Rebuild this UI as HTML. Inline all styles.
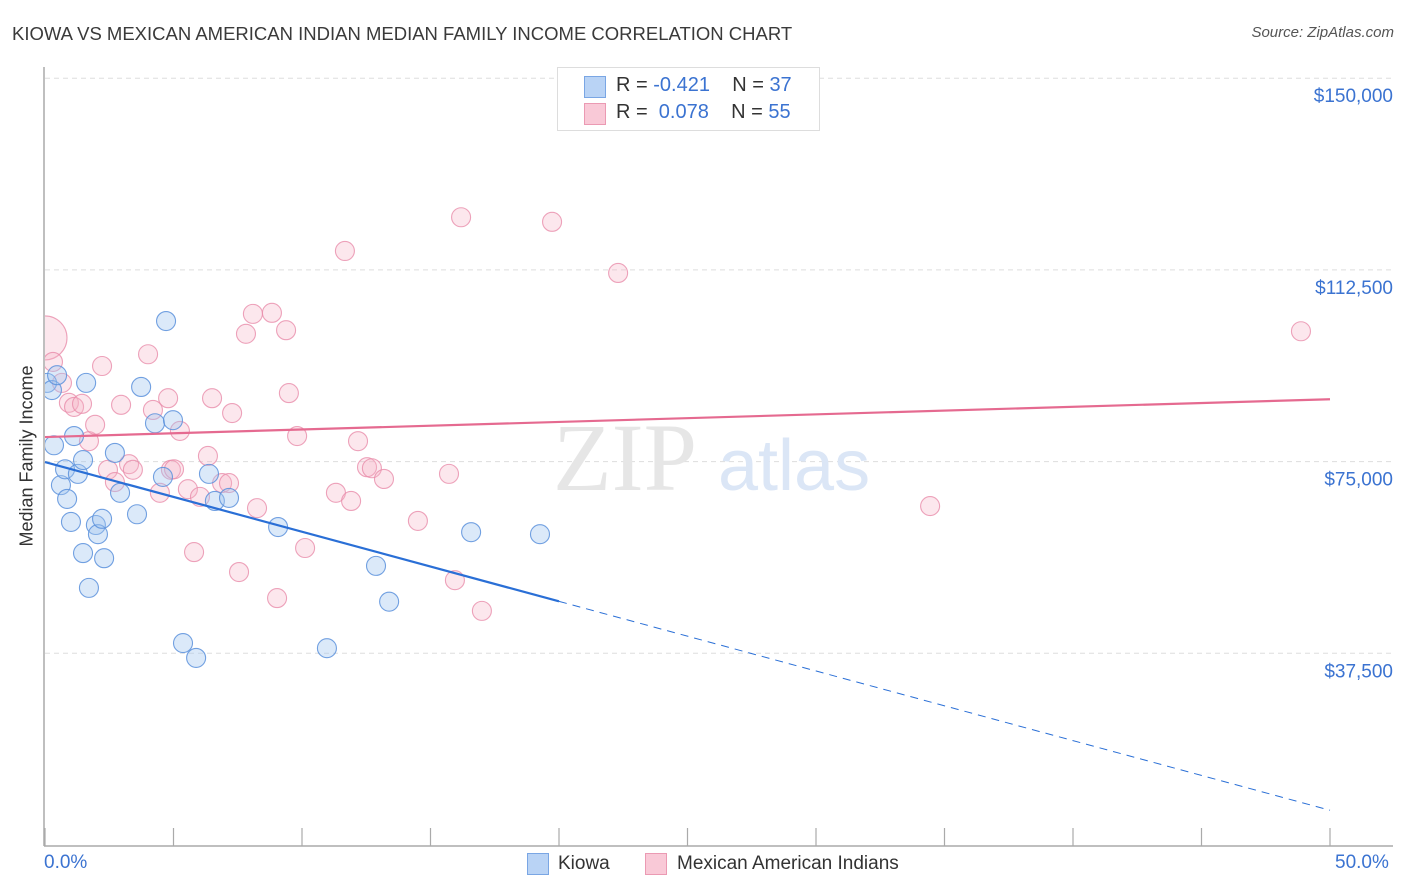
<!DOCTYPE html>
<html><head><meta charset="utf-8">
<style>
body{margin:0;background:#fff;font-family:"Liberation Sans",sans-serif;}
#wrap{position:relative;width:1406px;height:892px;overflow:hidden;}
.t{position:absolute;white-space:nowrap;}
</style></head>
<body>
<div id="wrap">
<div class="t" style="left:12px;top:23px;font-size:18.5px;color:#3a3a3a;">KIOWA VS MEXICAN AMERICAN INDIAN MEDIAN FAMILY INCOME CORRELATION CHART</div>
<div class="t" style="right:12px;top:24px;font-size:15px;color:#555;font-style:italic;">Source: ZipAtlas.com</div>
<svg id="svg" width="1406" height="892" style="position:absolute;left:0;top:0"></svg>
</div>
<script>
const xTicksPct=[0,5,10,15,20,25,30,35,40,45,50];
const yTickVals=[37.5,75,112.5,150];
const yTickLabels=["$37,500","$75,000","$112,500","$150,000"];
const kiowaX=[0.08,0.27,0.47,0.35,0.62,0.78,0.86,1.01,1.13,1.28,1.48,1.48,1.60,1.71,1.98,2.06,2.22,2.30,2.72,2.92,3.58,3.74,4.28,4.59,4.71,4.98,5.37,5.88,6.38,6.61,7.16,9.07,10.97,12.88,13.39,16.58,19.26];
const kiowaY=[90.4,89.0,91.9,78.2,70.4,73.5,67.7,63.2,80.0,72.6,75.3,57.1,90.4,50.3,62.6,60.8,63.8,56.1,76.7,68.9,64.7,89.6,82.5,72.0,102.5,83.1,39.5,36.6,72.6,67.3,67.9,62.2,38.5,54.6,47.6,61.2,60.8];
const mexX=[0,0.31,0.66,0.93,1.13,1.44,1.71,1.95,2.22,2.45,2.72,2.96,3.27,3.42,4.01,4.20,4.47,4.79,4.90,5.02,5.25,5.56,5.80,6.03,6.34,6.50,6.89,7.16,7.28,7.55,7.82,8.09,8.25,8.83,9.03,9.38,9.49,9.81,10.12,11.32,11.67,11.91,12.18,12.53,12.72,13.19,14.51,15.72,15.95,16.19,17.00,19.73,22.30,34.44,48.87];
const mexY=[99.2,94.5,90.4,86.5,85.7,86.3,79.0,82.2,93.7,73.4,71.0,86.1,74.5,73.4,96.0,85.1,68.9,87.4,73.4,73.5,81.0,69.6,57.3,68.1,76.1,87.4,70.8,70.8,84.5,53.4,100.0,103.9,65.9,104.1,48.3,100.7,88.4,80.0,58.1,68.9,116.2,67.3,79.0,73.9,73.7,71.6,63.4,72.6,51.8,122.8,45.8,121.9,111.9,66.3,100.5];
const kiowaTrend=[74.9,6.8];
const mexTrend=[79.8,87.2];

const X0=45,X1=1330,Y0=845,YPER=191.7/37.5;
const sx=p=>X0+(X1-X0)*p/50;
const sy=v=>Y0-v*YPER;
const svg=document.getElementById('svg');
const NS='http://www.w3.org/2000/svg';
function mk(tag,attrs,parent){const e=document.createElementNS(NS,tag);for(const k in attrs)e.setAttribute(k,attrs[k]);(parent||svg).appendChild(e);return e;}

const defs=mk('defs',{});
const cp=mk('clipPath',{id:'plotclip'},defs);
mk('rect',{x:45,y:60,width:1360,height:786},cp);

yTickVals.forEach((v,i)=>{
  const g=mk('line',{x1:45,x2:1392,y1:sy(v),y2:sy(v),stroke:'#ddd','stroke-dasharray':'5,4'});
  
  
  const t=mk('text',{x:1393,y:sy(v)+24,'text-anchor':'end','font-size':19,fill:'#3b73d1','font-family':'Liberation Sans'});
  t.textContent=yTickLabels[i];
  
  
});
const ya=mk('line',{x1:44,x2:44,y1:67,y2:846,stroke:'#aaa','stroke-width':1.5});


const xa=mk('line',{x1:44,x2:1393,y1:846,y2:846,stroke:'#aaa','stroke-width':1.5});


xTicksPct.forEach(p=>{
  const t=mk('line',{x1:sx(p),x2:sx(p),y1:828,y2:846,stroke:'#aaa','stroke-width':1.2});
  
  
});
const wm=mk('text',{x:553,y:490,'font-size':96,fill:'#e6e6e6','font-family':'Liberation Serif'});wm.textContent='ZIP';


const wm2=mk('text',{x:718,y:490,'font-size':72,fill:'#dbe6f6','font-family':'Liberation Sans'});wm2.textContent='atlas';



const gp=mk('g',{'clip-path':'url(#plotclip)'});
mexX.forEach((p,i)=>{
  const c=mk('circle',{cx:sx(p),cy:sy(mexY[i]),r:i===0?22:9.5,fill:'rgba(246,180,200,0.32)',stroke:'rgba(232,140,170,0.8)','stroke-width':1.1},gp);
  
  
});
kiowaX.forEach((p,i)=>{
  const c=mk('circle',{cx:sx(p),cy:sy(kiowaY[i]),r:9.5,fill:'rgba(160,196,240,0.38)',stroke:'rgba(90,145,220,0.85)','stroke-width':1.1},gp);
  
  
});
const kAt=p=>kiowaTrend[0]+(kiowaTrend[1]-kiowaTrend[0])*p/50;
const l1=mk('line',{x1:sx(0),y1:sy(kAt(0)),x2:sx(20),y2:sy(kAt(20)),stroke:'#2a6fd6','stroke-width':2.2});


const l2=mk('line',{x1:sx(20),y1:sy(kAt(20)),x2:sx(50),y2:sy(kAt(50)),stroke:'#2a6fd6','stroke-width':1,'stroke-dasharray':'8,6'});


const l3=mk('line',{x1:sx(0),y1:sy(mexTrend[0]),x2:sx(50),y2:sy(mexTrend[1]),stroke:'#e56a90','stroke-width':2.2});


</script>
<div class="t" style="left:557px;top:67px;width:261px;height:62px;border:1px solid #ddd;background:#fff;">
 <div class="t" style="left:26px;top:8px;width:20px;height:20px;background:#b9d3f5;border:1px solid #7aa6e4;"></div>
 <div class="t" style="left:58px;top:6px;font-size:20px;color:#333;">R = <span style="color:#3b73d1">-0.421</span>&nbsp;&nbsp;&nbsp;&nbsp;N = <span style="color:#3b73d1">37</span></div>
 <div class="t" style="left:26px;top:35px;width:20px;height:20px;background:#f9c9d7;border:1px solid #eb9ab3;"></div>
 <div class="t" style="left:58px;top:33px;font-size:20px;color:#333;">R = &nbsp;<span style="color:#3b73d1">0.078</span>&nbsp;&nbsp;&nbsp;&nbsp;N = <span style="color:#3b73d1">55</span></div>
</div>
<div class="t" style="left:44px;top:852px;font-size:19px;color:#3b73d1;">0.0%</div>
<div class="t" style="left:1335px;top:852px;font-size:19px;color:#3b73d1;">50.0%</div>
<div class="t" style="left:527px;top:853px;width:20px;height:20px;background:#b9d3f5;border:1px solid #7aa6e4;"></div>
<div class="t" style="left:558px;top:853px;font-size:19px;color:#333;">Kiowa</div>
<div class="t" style="left:645px;top:853px;width:20px;height:20px;background:#f9c9d7;border:1px solid #eb9ab3;"></div>
<div class="t" style="left:677px;top:853px;font-size:19px;color:#333;">Mexican American Indians</div>
<div class="t" style="left:27px;top:456px;font-size:18px;color:#333;transform:translate(-50%,-50%) rotate(-90deg);">Median Family Income</div>
</body></html>
